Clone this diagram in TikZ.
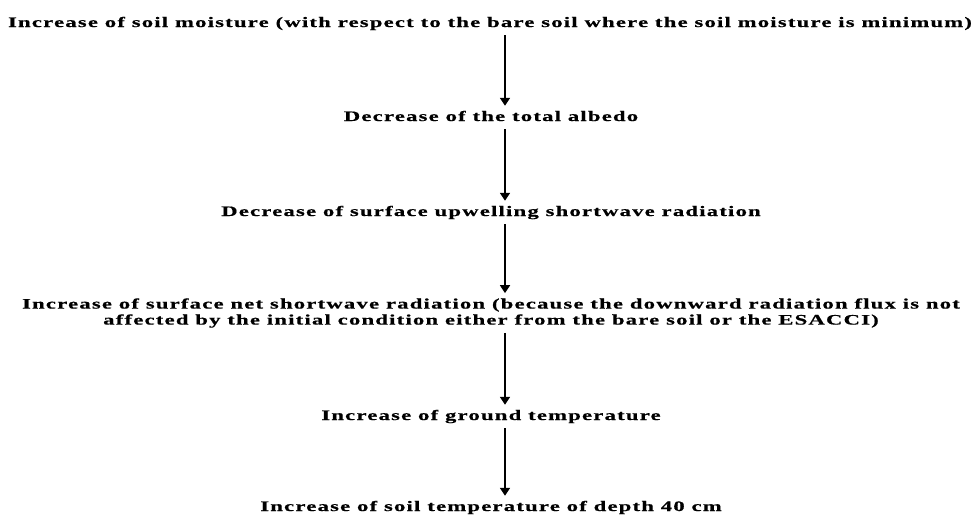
\documentclass[tikz,border=0pt]{standalone}
\usepackage{fontspec}
\setmainfont{Liberation Serif}[FakeStretch=1.56, LetterSpace=8.5, FakeBold=0.6]
\usetikzlibrary{arrows.meta, positioning}

\begin{document}
\begin{tikzpicture}[x=1pt, y=1pt,
  step text/.style={font=\fontsize{14.5}{16}\selectfont\bfseries, inner xsep=0pt, inner ysep=5pt,
    text height=10pt, text depth=3pt, anchor=base},
  flow/.style={line width=1.7pt, -{Triangle[width=10pt, length=8pt]}}]
  % Rahmen
  \useasboundingbox (0,0) rectangle (975,-515);

  % Kette der Wirkungen
  \node[step text] (moist) at (490,-27) {Increase of soil moisture (with respect to the bare soil where the soil moisture is minimum)};
  \node[step text] (albedo) at (491,-121) {Decrease of the total albedo};
  \node[step text] (upsw) at (491,-216) {Decrease of surface upwelling shortwave radiation};
  \node[font=\fontsize{14.5}{16}\selectfont\bfseries, align=center, inner xsep=0pt, inner ysep=5pt] (netsw) at (491,-313)
    {Increase of surface net shortwave radiation (because the downward radiation flux is not\\
     affected by the initial condition either from the bare soil or the ESACCI)};
  \node[step text] (tground) at (491,-420) {Increase of ground temperature};
  \node[step text] (tsoil) at (491,-511) {Increase of soil temperature of depth 40 cm};

  % Pfeile
  \coordinate (axis) at (505,0);
  \draw[flow] (moist.south -| axis) -- (albedo.north -| axis);
  \draw[flow] (albedo.south -| axis) -- (upsw.north -| axis);
  \draw[flow] (upsw.south -| axis) -- (netsw.north -| axis);
  \draw[flow] (netsw.south -| axis) -- (tground.north -| axis);
  \draw[flow] (tground.south -| axis) -- (tsoil.north -| axis);
\end{tikzpicture}
\end{document}
